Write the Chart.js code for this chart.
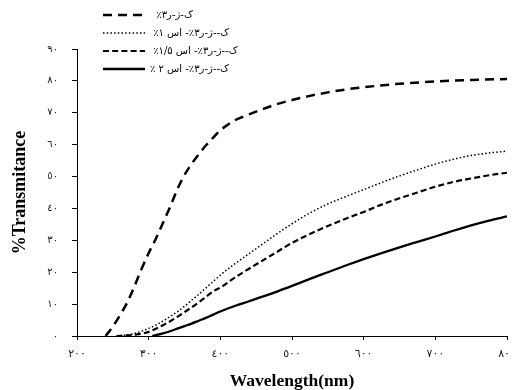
<!DOCTYPE html>
<html><head><meta charset="utf-8">
<script src="https://cdn.jsdelivr.net/npm/chart.js@4"></script>
<style>
html,body{margin:0;padding:0;background:#fff;overflow:hidden;}
#wrap{width:509px;height:390px;overflow:hidden;background:#fff;}
canvas{display:block;}
</style></head><body>
<div id="wrap"><canvas id="c" width="530" height="390"></canvas></div>
<script>
// ---- data ----
const seriesNames = ['ک-ژ-ر۳٪  ', 'ک--ژ-ر۳٪- اس ۱٪ ', 'ک--ژ-ر۳٪- اس ۱/۵٪ ', 'ک--ژ-ر۳٪- اس ۲ ٪'];

const wl1 = [240,250,260,270,280,290,300,310,320,330,340,350,360,370,380,390,400,410,420,430,440,460,480,500,525,550,575,600,650,700,750,800];
const t1  = [0,3,6.5,10.5,15.5,21,26,30.5,35.5,40.5,46,50.5,54,57,59.8,62.2,64.5,66.2,67.6,68.6,69.5,71.2,72.8,74,75.3,76.4,77.3,78,79.1,79.8,80.3,80.6];

const wl2 = [260,270,280,290,300,310,320,330,340,350,360,370,380,390,400,420,440,460,480,500,525,550,575,600,625,650,675,700,725,750,775,800];
const t2  = [0,0.3,0.8,1.5,2.4,3.4,4.7,6.1,7.6,9.3,11.2,13.1,15.1,17.1,19.1,22.6,25.8,29,32.2,35.2,38.6,41.4,43.7,45.9,48.1,50.2,52.1,53.9,55.4,56.6,57.4,58];

const wl3 = [255,270,280,290,300,310,320,330,340,350,360,370,380,390,400,420,440,460,480,500,525,550,575,600,625,650,675,700,725,750,775,800];
const t3  = [0,0.2,0.4,0.7,1.3,2.3,3.4,4.6,6,7.5,9,10.6,12.3,14,15.2,18.3,21.1,23.8,26.5,29.2,32,34.5,36.8,38.9,41.2,43.2,45,46.8,48.3,49.4,50.4,51.2];

const wl4 = [305,320,330,340,350,360,370,380,390,400,420,440,460,480,500,525,550,575,600,625,650,675,700,725,750,775,800];
const t4  = [0,0.8,1.5,2.3,3.1,3.9,4.8,5.7,6.7,7.7,9.4,10.9,12.4,14,15.7,17.9,20,22.1,24.1,26,27.8,29.5,31.2,33,34.7,36.2,37.5];

const xTickValues = [200,300,400,500,600,700,800];
const xTickLabels = ['٢٠٠','٣٠٠','٤٠٠','٥٠٠','٦٠٠','٧٠٠','٨٠٠'];
const yTickValues = [0,10,20,30,40,50,60,70,80,90];
const yTickLabels = ['٠','١٠','٢٠','٣٠','٤٠','٥٠','٦٠','٧٠','٨٠','٩٠'];

const xTitle = 'Wavelength(nm)';
const yTitle = '%Transmitance';

// ---- build ----
const pts = (xs, ys) => xs.map((x, i) => ({x: x, y: ys[i]}));
const styles = [
  {borderWidth: 2.5, borderDash: [9, 6]},
  {borderWidth: 1.5, borderDash: [1.5, 2.2]},
  {borderWidth: 2.2, borderDash: [6, 3.2]},
  {borderWidth: 2.3, borderDash: []}
];
const series = [[wl1, t1], [wl2, t2], [wl3, t3], [wl4, t4]];

const datasets = series.map((s, i) => Object.assign({
  label: seriesNames[i],
  data: pts(s[0], s[1]),
  borderColor: '#000',
  backgroundColor: '#000',
  pointRadius: 0,
  fill: false,
  cubicInterpolationMode: 'monotone'
}, styles[i]));

const legendPlacer = {
  id: 'legendPlacer',
  afterLayout(chart) {
    const lg = chart.legend;
    if (!lg) return;
    lg.left = 95; lg.top = 2; lg.width = 260; lg.height = 90;
    lg.right = lg.left + lg.width; lg.bottom = lg.top + lg.height;
  }
};

new Chart(document.getElementById('c'), {
  type: 'line',
  data: {datasets: datasets},
  plugins: [legendPlacer],
  options: {
    responsive: false,
    animation: false,
    devicePixelRatio: 1,
    layout: {padding: {top: 49, right: 23, bottom: 0, left: 0}},
    plugins: {
      tooltip: {enabled: false},
      legend: {
        position: 'chartArea',
        align: 'start',
        rtl: false,
        textDirection: 'rtl',
        labels: {
          usePointStyle: true,
          pointStyle: 'line',
          pointStyleWidth: 42,
          padding: 8,
          color: '#000',
          font: {family: 'DejaVu Sans', size: 10},
          generateLabels(chart) {
            const items = Chart.defaults.plugins.legend.labels.generateLabels(chart);
            items.forEach((it) => {
              const ds = chart.data.datasets[it.datasetIndex];
              it.pointStyle = 'line';
              it.lineDash = ds.borderDash;
              it.lineWidth = ds.borderWidth;
              it.strokeStyle = '#000';
              it.fillStyle = '#000';
              it.fontColor = '#000';
            });
            return items;
          }
        }
      }
    },
    scales: {
      x: {
        type: 'linear', min: 200, max: 800,
        afterFit(s) { s.height = 54; },
        ticks: {
          stepSize: 100, maxRotation: 0, autoSkip: false, padding: 8, color: '#222',
          font: {family: 'DejaVu Sans', size: 11},
          callback: (v) => { const i = xTickValues.indexOf(v); return i >= 0 ? xTickLabels[i] : ''; }
        },
        grid: {display: true, drawOnChartArea: false, drawTicks: true, tickLength: 4, color: '#000', tickColor: '#000'},
        border: {display: true, color: '#000', width: 1},
        title: {display: true, text: xTitle, color: '#000', padding: {top: 0, bottom: 0},
          font: {family: 'Liberation Serif', size: 17.5, weight: 'bold', lineHeight: 1}}
      },
      y: {
        type: 'linear', min: 0, max: 90,
        afterFit(s) { s.width = 77; },
        ticks: {
          stepSize: 10, padding: 14, color: '#222',
          font: {family: 'DejaVu Sans', size: 10},
          callback: (v) => { const i = yTickValues.indexOf(v); return i >= 0 ? yTickLabels[i] : ''; }
        },
        grid: {display: true, drawOnChartArea: false, drawTicks: true, tickLength: 5, color: '#000', tickColor: '#000'},
        border: {display: true, color: '#000', width: 1},
        title: {display: true, text: yTitle, color: '#000', padding: {top: 11, bottom: 0},
          font: {family: 'Liberation Serif', size: 18, weight: 'bold', lineHeight: 1}}
      }
    }
  }
});
</script>
</body></html>
